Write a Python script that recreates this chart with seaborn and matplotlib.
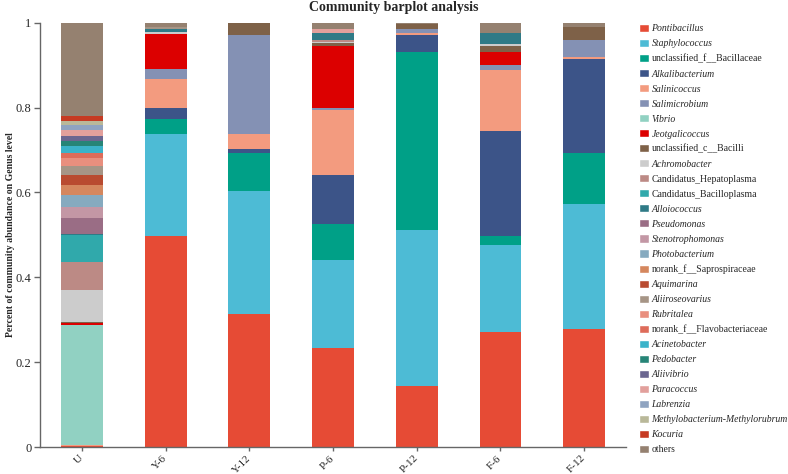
import pandas as pd
import seaborn as sns
import matplotlib
matplotlib.use('Agg')
from matplotlib import pyplot as plt
from matplotlib.patches import Patch

samples = ['U', 'Y-6', 'Y-12', 'P-6', 'P-12', 'F-6', 'F-12']

taxa = ['Pontibacillus', 'Staphylococcus', 'unclassified_f__Bacillaceae', 'Alkalibacterium',
        'Salinicoccus', 'Salimicrobium', 'Vibrio', 'Jeotgalicoccus', 'unclassified_c__Bacilli',
        'Achromobacter', 'Candidatus_Hepatoplasma', 'Candidatus_Bacilloplasma', 'Alloiococcus',
        'Pseudomonas', 'Stenotrophomonas', 'Photobacterium', 'norank_f__Saprospiraceae',
        'Aquimarina', 'Aliiroseovarius', 'Rubritalea', 'norank_f__Flavobacteriaceae',
        'Acinetobacter', 'Pedobacter', 'Aliivibrio', 'Paracoccus', 'Labrenzia',
        'Methylobacterium-Methylorubrum', 'Kocuria', 'others']

colors = ['#E64B35', '#4DBBD5', '#00A087', '#3C5488', '#F39B7F', '#8491B4', '#91D1C2',
          '#DC0000', '#7E6148', '#CCCCCC', '#BC8A85', '#30A9AB', '#2F7A86', '#9A6D85',
          '#C397A5', '#86AABF', '#D5875E', '#B94B30', '#A69586', '#E98F7E', '#DE6C5A',
          '#3BB3C9', '#278577', '#6B6690', '#E2A09C', '#8FA3C0', '#B9B899', '#C63A22',
          '#958170']

# relative abundance, one value per taxon (same order as taxa)
U = [0.002, 0, 0, 0, 0.002, 0, 0.283, 0.005, 0.003, 0.075, 0.067, 0.063, 0.002,
     0.037, 0.026, 0.029, 0.024, 0.024, 0.020, 0.020, 0.012, 0.016, 0.012, 0.012,
     0.014, 0.011, 0.010, 0.010, 0.221]
Y6 = [0.497, 0.240, 0.036, 0.026, 0.068, 0.025, 0, 0.081, 0, 0.005, 0, 0, 0.006,
      0, 0, 0, 0, 0, 0.005, 0, 0, 0, 0, 0, 0, 0, 0, 0, 0.011]
Y12 = [0.313, 0.290, 0.090, 0.010, 0.034, 0.235, 0, 0, 0.027, 0, 0, 0, 0,
       0, 0, 0, 0, 0, 0, 0, 0, 0, 0, 0, 0, 0, 0, 0, 0.001]
P6 = [0.233, 0.207, 0.086, 0.116, 0.152, 0.004, 0, 0.148, 0.005, 0.004, 0.005, 0, 0.016,
      0, 0, 0, 0, 0, 0, 0, 0, 0, 0, 0, 0.010, 0, 0, 0, 0.014]
P12 = [0.144, 0.368, 0.420, 0.038, 0.005, 0.009, 0, 0, 0.012, 0, 0, 0, 0,
       0, 0, 0, 0, 0, 0, 0, 0, 0, 0, 0, 0, 0, 0, 0, 0.004]
F6 = [0.270, 0.207, 0.020, 0.247, 0.145, 0.012, 0, 0.031, 0.013, 0.005, 0, 0, 0.026,
      0, 0, 0, 0, 0, 0, 0, 0, 0, 0, 0, 0, 0, 0, 0, 0.024]
F12 = [0.278, 0.294, 0.120, 0.222, 0.004, 0.042, 0, 0, 0.031, 0, 0, 0, 0,
       0, 0, 0, 0, 0, 0, 0, 0, 0, 0, 0, 0, 0, 0, 0, 0.009]

abund = [U, Y6, Y12, P6, P12, F6, F12]
rows = []
for s, vals in zip(samples, abund):
    for t, v in zip(taxa, vals):
        rows.append({'sample': s, 'taxon': t, 'value': v})
df = pd.DataFrame(rows)
df['sample'] = pd.Categorical(df['sample'], categories=samples, ordered=True)

sns.set_style('ticks')
plt.rcParams['font.family'] = ['Liberation Serif', 'DejaVu Serif']

fig = plt.figure(figsize=(7.88, 4.74), dpi=100)
ax = fig.add_axes([40 / 788, 27 / 474, 586 / 788, 424.3 / 474])

pal = dict(zip(taxa, colors))
# seaborn stacks the first hue level on top, so reverse it
sns.histplot(data=df, x='sample', hue='taxon', weights='value', multiple='stack',
             discrete=True, shrink=0.5, hue_order=taxa[::-1], palette=pal,
             alpha=1, linewidth=0, legend=False, ax=ax)

ax.set_xlim(-0.5, 6.5)
ax.set_ylim(0, 1)
ax.set_yticks([0, 0.2, 0.4, 0.6, 0.8, 1])
ax.set_yticklabels(['0', '0.2', '0.4', '0.6', '0.8', '1'])
ax.set_xticks(range(len(samples)))
ax.set_xticklabels(samples, rotation=45, ha='right', va='center', rotation_mode='anchor')
ax.tick_params(axis='y', labelsize=9, length=4, width=1, color='#666666', pad=2)
ax.tick_params(axis='x', labelsize=8, length=3, width=1, color='#666666', pad=4)
ax.set_xlabel('')
ax.set_ylabel('Percent of community abundance on Genus level', fontsize=7,
              fontweight='bold')
ax.yaxis.set_label_coords(-0.043, 0.5)
sns.despine(ax=ax)
for sp in ['left', 'bottom']:
    ax.spines[sp].set_color('#666666')
    ax.spines[sp].set_linewidth(1)

fig.text(0.5, 1 - 7 / 474, 'Community barplot analysis', ha='center', va='center',
         fontsize=10, fontweight='bold')

handles = [Patch(facecolor=c, label=t) for t, c in zip(taxa, colors)]
leg = fig.legend(handles=handles, loc='upper left', bbox_to_anchor=(639 / 788, 1 - 24 / 474),
                 frameon=False, fontsize=7, handlelength=1.03, handleheight=0.93,
                 handletextpad=0.25, labelspacing=0.57, borderaxespad=0, borderpad=0)
for txt in leg.get_texts():
    name = txt.get_text()
    if not name.startswith(('unclassified', 'norank', 'Candidatus', 'others')):
        txt.set_fontstyle('italic')

fig.savefig('out.png', dpi=100)
